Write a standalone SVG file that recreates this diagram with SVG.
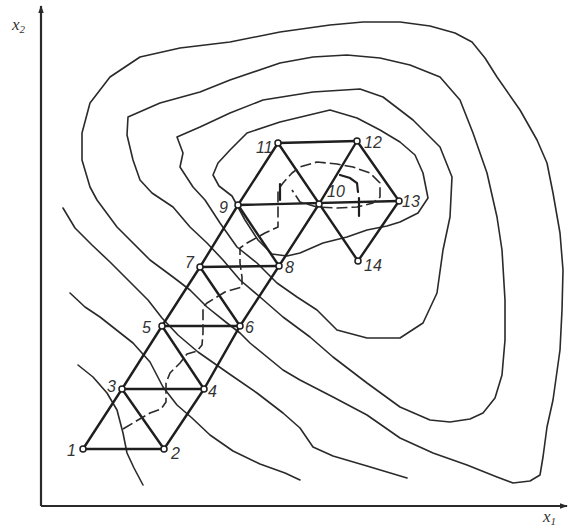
<svg xmlns="http://www.w3.org/2000/svg" width="569" height="526" viewBox="0 0 569 526">
<defs>
<style>
.contour{fill:none;stroke:#2a2a2a;stroke-width:1.6;stroke-linejoin:round;stroke-linecap:round}
.edge{fill:none;stroke:#1e1e1e;stroke-width:2.4;stroke-linecap:round}
.axis{fill:none;stroke:#2a2a2a;stroke-width:2.2}
.path{fill:none;stroke:#2a2a2a;stroke-width:1.6;stroke-dasharray:11 4;stroke-linejoin:round}
.hook{fill:none;stroke:#1e1e1e;stroke-width:2.2;stroke-linecap:round}
.pt{fill:#fff;stroke:#1e1e1e;stroke-width:1.5}
.lbl{font-family:"Liberation Sans",Arial,sans-serif;font-style:italic;font-size:16px;fill:#333}
.ax{font-family:"Liberation Serif","Times New Roman",serif;font-style:italic;font-size:17px;fill:#333}
</style>
<marker id="arr" viewBox="0 0 10 10" refX="9" refY="5" markerWidth="8" markerHeight="8" orient="auto-start-reverse" markerUnits="userSpaceOnUse">
<path d="M0,1.5 L10,5 L0,8.5 Z" fill="#2a2a2a"/>
</marker>
</defs>
<rect width="569" height="526" fill="#fff"/>

<g id="axes">
<line class="axis" x1="41" y1="506" x2="41" y2="6" marker-end="url(#arr)"/>
<line class="axis" x1="41" y1="506" x2="567" y2="506" marker-end="url(#arr)"/>
<text class="ax" x="12" y="30">x<tspan font-size="11" dy="3">2</tspan></text>
<text class="ax" x="543" y="522">x<tspan font-size="11" dy="3">1</tspan></text>
</g>

<g id="contours">
<path class="contour" d="M97,200 L90,187 L82,160 L82,133 L90,103 L110,77 L140,57 L180,48 L230,42 L280,32 L330,25 L363,22 L400,22 L430,26 L455,33 L472,42 L485,58 L497,77 L520,110 L537,140 L547,163 L553,193 L560,233 L563,270 L562,310 L560,350 L553,400 L547,427 L543,457 L540,475 L530,481 L513,483 L497,477 L467,465 L433,453 L400,438 L367,415 L333,397 L300,380 L283,370 L250,343 L240,333 L227,323 L207,307 L190,290 L173,277 L150,260 L117,227 Z"/>
<path class="contour" d="M128,117 L127,135 L133,160 L140,180 L152,193 L173,207 L190,227 L207,243 L223,260 L240,280 L260,297 L283,317 L310,337 L333,357 L367,383 L400,407 L430,420 L450,422 L470,419 L483,413 L495,398 L502,375 L505,340 L505,300 L502,250 L497,217 L487,173 L473,133 L460,100 L440,77 L410,65 L380,58 L347,55 L313,57 L280,63 L230,80 L200,92 L160,103 Z"/>
<path class="contour" d="M177,137 L183,153 L180,167 L193,187 L205,200 L220,223 L237,247 L257,263 L277,283 L297,297 L317,310 L337,330 L367,338 L400,338 L423,323 L437,293 L443,250 L450,217 L452,177 L440,147 L413,120 L400,110 L383,97 L360,89 L313,92 L263,100 L230,113 L200,127 Z"/>
<path class="contour" d="M237,143 L247,133 L280,122 L330,110 L357,118 L380,130 L400,142 L415,155 L423,173 L428,198 L418,213 L400,222 L387,226 L367,230 L347,237 L323,243 L300,253 L287,256 L272,254 L258,240 L245,220 L232,196 L219,186 L213,175 L218,163 L230,150 Z"/>
<path class="contour" d="M63,208 L75,228 L92,245 L110,262 L130,282 L148,300 L162,318 L178,335 L198,352 L228,373 L257,393 L283,413 L300,428 L313,447 L333,456 L367,466 L407,478"/>
<path class="contour" d="M70,293 L85,307 L100,317 L133,343 L150,362 L163,387 L177,405 L192,418 L210,435 L233,451 L260,464 L285,473 L300,480"/>
<path class="contour" d="M78,365 L93,377 L107,393 L117,410 L123,433 L127,453 L134,468 L143,485"/>
</g>

<g id="connectors">
<polyline class="edge" points="83,449 122,389 162,326 200,267 238,205 278,143"/>
<polyline class="edge" points="164,449 204,389 240,326 279,266 319,204 357,141"/>
<line class="edge" x1="83" y1="449" x2="164" y2="449"/>
<line class="edge" x1="122" y1="389" x2="204" y2="389"/>
<line class="edge" x1="162" y1="326" x2="240" y2="326"/>
<line class="edge" x1="200" y1="267" x2="279" y2="266"/>
<line class="edge" x1="238" y1="205" x2="399" y2="201"/>
<line class="edge" x1="278" y1="143" x2="357" y2="141"/>
<line class="edge" x1="122" y1="389" x2="164" y2="449"/>
<line class="edge" x1="162" y1="326" x2="204" y2="389"/>
<line class="edge" x1="200" y1="267" x2="240" y2="326"/>
<line class="edge" x1="238" y1="205" x2="279" y2="266"/>
<line class="edge" x1="278" y1="143" x2="358" y2="261"/>
<line class="edge" x1="357" y1="141" x2="399" y2="201"/>
<line class="edge" x1="399" y1="201" x2="358" y2="261"/>
</g>

<g id="trajectory">
<polyline class="path" points="123,429 138,420 150,413 161,409 166,402 166,383 170,373 180,363 187,354 197,351 202,345 203,333 203,307 207,303 225,292 242,287 242,277 240,263 240,248 247,243 265,233 278,227 278,190 283,183 292,173 300,167 317,162 337,164 353,167 370,173 380,183 380,197 373,203 357,207 337,208 317,207 300,202 292,190"/>
<polyline class="hook" points="340,175 350,178 357,183 358,192"/>
<line class="hook" x1="359" y1="198" x2="359" y2="216"/>
<line class="hook" x1="280" y1="184" x2="280" y2="200"/>
</g>

<g id="n1"><circle class="pt" cx="83" cy="449" r="3"/><text class="lbl" x="67" y="456">1</text></g>
<g id="n2"><circle class="pt" cx="164" cy="449" r="3"/><text class="lbl" x="171" y="459">2</text></g>
<g id="n3"><circle class="pt" cx="122" cy="389" r="3"/><text class="lbl" x="107" y="392">3</text></g>
<g id="n4"><circle class="pt" cx="204" cy="389" r="3"/><text class="lbl" x="208" y="397">4</text></g>
<g id="n5"><circle class="pt" cx="162" cy="326" r="3"/><text class="lbl" x="142" y="333">5</text></g>
<g id="n6"><circle class="pt" cx="240" cy="326" r="3"/><text class="lbl" x="245" y="333">6</text></g>
<g id="n7"><circle class="pt" cx="200" cy="267" r="3"/><text class="lbl" x="185" y="268">7</text></g>
<g id="n8"><circle class="pt" cx="279" cy="266" r="3"/><text class="lbl" x="285" y="273">8</text></g>
<g id="n9"><circle class="pt" cx="238" cy="205" r="3"/><text class="lbl" x="219" y="213">9</text></g>
<g id="n10"><circle class="pt" cx="319" cy="204" r="3"/><text class="lbl" x="327" y="197" font-size="13">10</text></g>
<g id="n11"><circle class="pt" cx="278" cy="143" r="3"/><text class="lbl" x="256" y="153">11</text></g>
<g id="n12"><circle class="pt" cx="357" cy="141" r="3"/><text class="lbl" x="364" y="148">12</text></g>
<g id="n13"><circle class="pt" cx="399" cy="201" r="3"/><text class="lbl" x="402" y="207">13</text></g>
<g id="n14"><circle class="pt" cx="358" cy="261" r="3"/><text class="lbl" x="364" y="271">14</text></g>
</svg>
